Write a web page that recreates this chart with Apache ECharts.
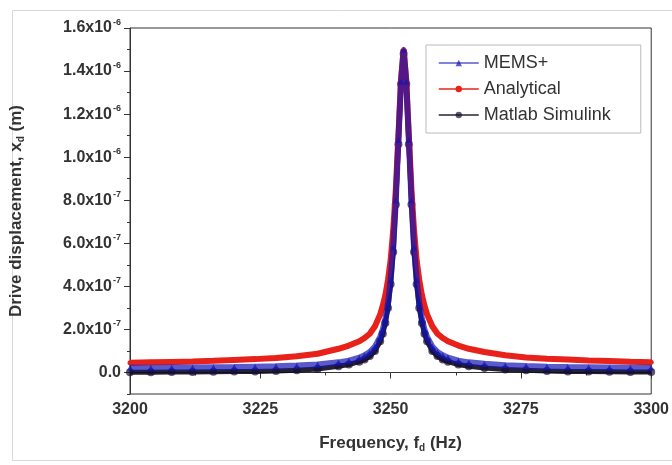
<!DOCTYPE html>
<html>
<head>
<meta charset="utf-8">
<script src="https://cdn.jsdelivr.net/npm/echarts@6/dist/echarts.min.js"></script>
<style>
  html, body { margin: 0; padding: 0; background: #fff; }
  #chart { width: 672px; height: 465px; }
</style>
</head>
<body>
<div id="chart"></div>
<script>
  // frequency grid (Hz), denser near the resonance
  const freq = [3200, 3204, 3208, 3212, 3216, 3220, 3224, 3228, 3232, 3236, 3240, 3242, 3244, 3245, 3246, 3247, 3248, 3248.5, 3249, 3249.5, 3250, 3250.5, 3251, 3251.5, 3252, 3252.5, 3253, 3253.5, 3254, 3254.5, 3255, 3255.5, 3256, 3256.5, 3257, 3258, 3259, 3260, 3261, 3263, 3265, 3268, 3272, 3276, 3280, 3284, 3288, 3292, 3296, 3300];
  // drive displacement in units of 1e-6 m
  const memsPlus = [0.022, 0.022, 0.023, 0.023, 0.024, 0.025, 0.027, 0.029, 0.032, 0.037, 0.047, 0.055, 0.069, 0.080, 0.095, 0.120, 0.165, 0.200, 0.250, 0.320, 0.430, 0.580, 0.800, 1.080, 1.350, 1.500, 1.350, 1.080, 0.800, 0.580, 0.430, 0.320, 0.250, 0.200, 0.165, 0.120, 0.095, 0.080, 0.069, 0.055, 0.047, 0.040, 0.034, 0.030, 0.027, 0.025, 0.024, 0.023, 0.022, 0.022];
  const analytical = [0.045, 0.047, 0.049, 0.051, 0.054, 0.058, 0.062, 0.067, 0.075, 0.087, 0.110, 0.125, 0.145, 0.160, 0.180, 0.215, 0.270, 0.310, 0.360, 0.430, 0.520, 0.660, 0.850, 1.100, 1.360, 1.500, 1.360, 1.100, 0.850, 0.660, 0.520, 0.430, 0.360, 0.310, 0.270, 0.215, 0.180, 0.160, 0.145, 0.125, 0.110, 0.095, 0.080, 0.070, 0.064, 0.060, 0.056, 0.053, 0.050, 0.048];
  const simulink = [0.001, 0.001, 0.002, 0.002, 0.003, 0.004, 0.005, 0.007, 0.010, 0.016, 0.029, 0.037, 0.050, 0.060, 0.076, 0.100, 0.145, 0.180, 0.230, 0.300, 0.410, 0.560, 0.780, 1.060, 1.340, 1.480, 1.340, 1.060, 0.780, 0.560, 0.410, 0.300, 0.230, 0.180, 0.145, 0.100, 0.076, 0.060, 0.050, 0.037, 0.029, 0.021, 0.014, 0.010, 0.007, 0.005, 0.004, 0.003, 0.002, 0.002];
  const yTicks = [0, 0.2, 0.4, 0.6, 0.8, 1.0, 1.2, 1.4, 1.6];
  const yMinorTicks = [-0.1, 0, 0.1, 0.2, 0.3, 0.4, 0.5, 0.6, 0.7, 0.8, 0.9, 1.0, 1.1, 1.2, 1.3, 1.4, 1.5, 1.6];

  const pairs = (ys) => freq.map((f, i) => [f, ys[i]]);

  // 1.6 -> "1.6x10^-6", 0.8 -> "8.0x10^-7"
  function yLabel(v) {
    if (Math.abs(v) < 1e-9) return '{b|0.0}';
    if (v >= 1 - 1e-9) return '{b|' + v.toFixed(1) + 'x10}{s|-6}';
    return '{b|' + (v * 10).toFixed(1) + 'x10}{s|-7}';
  }

  const font = 'Liberation Sans, Arial, sans-serif';
  const txt = '#333';
  const chart = echarts.init(document.getElementById('chart'));
  chart.setOption({
    animation: false,
    textStyle: { fontFamily: font },
    graphic: [{
      type: 'rect',
      shape: { x: 12.5, y: 10.5, width: 680, height: 450 },
      style: { fill: 'none', stroke: '#d8d8d8', lineWidth: 1 },
      silent: true
    }],
    grid: {
      left: 128, right: 17, top: 28, bottom: 71,
      show: true, borderColor: '#333', borderWidth: 1
    },
    legend: {
      orient: 'vertical',
      left: 426, top: 45,
      padding: [9, 30, 9, 12],
      itemGap: 8,
      itemWidth: 40, itemHeight: 8,
      borderColor: '#bbb', borderWidth: 1, borderRadius: 0,
      textStyle: { fontFamily: font, fontSize: 18, color: txt },
      lineStyle: { width: 1.5 },
      data: ['MEMS+', 'Analytical', 'Matlab Simulink']
    },
    xAxis: {
      type: 'value',
      min: 3200, max: 3300, interval: 25,
      name: 'Frequency, f{sub|d} (Hz)',
      nameLocation: 'middle', nameGap: 40,
      nameTextStyle: {
        fontFamily: font, fontSize: 17, fontWeight: 'bold', color: txt,
        rich: { sub: { fontSize: 10, fontWeight: 'bold', color: txt, padding: [9, 0, 0, 0] } }
      },
      axisLine: { lineStyle: { color: '#333', width: 1 } },
      axisTick: { show: true, length: 6, lineStyle: { color: '#333' } },
      minorTick: { show: true, splitNumber: 2, length: 3, lineStyle: { color: '#333' } },
      splitLine: { show: false },
      axisLabel: {
        fontFamily: font, fontSize: 16, fontWeight: 'bold', color: txt, margin: 8,
        formatter: (v) => String(v)
      }
    },
    yAxis: [{
      type: 'value',
      min: -0.1, max: 1.6,
      name: 'Drive displacement, x{sub|d} (m)',
      nameLocation: 'middle', nameGap: 104,
      nameTextStyle: {
        fontFamily: font, fontSize: 17, fontWeight: 'bold', color: txt,
        rich: { sub: { fontSize: 10, fontWeight: 'bold', color: txt, padding: [9, 0, 0, 0] } }
      },
      axisLine: { show: true, lineStyle: { color: '#333', width: 1 } },
      axisTick: { show: true, length: 6, customValues: yTicks, lineStyle: { color: '#333' } },
      splitLine: { show: false },
      axisLabel: {
        customValues: yTicks,
        margin: 9,
        formatter: yLabel,
        rich: {
          b: { fontFamily: font, fontSize: 16, fontWeight: 'bold', color: txt },
          s: { fontFamily: font, fontSize: 9, fontWeight: 'bold', color: txt, padding: [0, 0, 11, 1] }
        }
      }
    }, {
      type: 'value',
      position: 'left',
      min: -0.1, max: 1.6,
      axisLine: { show: false },
      axisTick: { show: true, length: 3, customValues: yMinorTicks, lineStyle: { color: '#333' } },
      axisLabel: { show: false },
      splitLine: { show: false }
    }],
    series: [
      {
        name: 'Analytical',
        type: 'line',
        data: pairs(analytical),
        color: '#e8221a',
        symbol: 'circle', symbolSize: 5,
        lineStyle: { width: 6, color: '#e8221a' },
        itemStyle: { color: '#e8221a' },
        z: 2
      },
      {
        name: 'MEMS+',
        type: 'line',
        data: pairs(memsPlus),
        color: '#1414b4',
        symbol: 'triangle', symbolSize: 6,
        lineStyle: { width: 6, color: '#1414b4', opacity: 0.7 },
        itemStyle: { color: '#1414b4', opacity: 0.7 },
        z: 3
      },
      {
        name: 'Matlab Simulink',
        type: 'line',
        data: pairs(simulink),
        color: '#0a0a1e',
        symbol: 'circle', symbolSize: 8,
        lineStyle: { width: 5, color: '#0a0a1e', opacity: 0.9 },
        itemStyle: { color: '#1a1030', opacity: 0.7 },
        z: 1
      }
    ]
  });
</script>
</body>
</html>
